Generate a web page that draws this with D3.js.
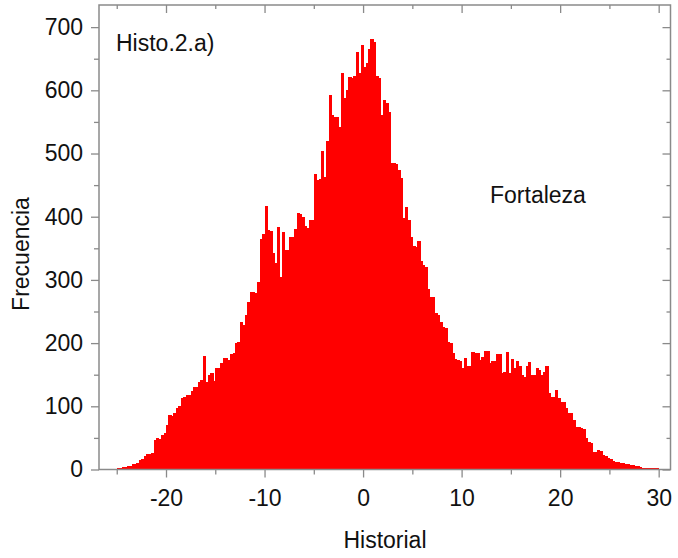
<!DOCTYPE html>
<html>
<head>
<meta charset="utf-8">
<script src="https://cdn.jsdelivr.net/npm/d3@7"></script>
<style>
  html, body { margin: 0; padding: 0; background: #fff; }
  svg { display: block; font-family: "Liberation Sans", Arial, sans-serif; }
</style>
</head>
<body>
<svg id="main-canvas" width="678" height="558"></svg>
<script>
// histogram bins: start value, width, and count per bin
var binStart = -25
var binWidth = 0.25
var counts = [
  2, 3, 4, 4, 5, 6, 8, 9, 11, 15, 16, 22, 25, 24, 26, 47, 50, 48, 55, 58,
  70, 86, 84, 90, 97, 100, 113, 115, 118, 118, 125, 130, 131, 139, 142, 180, 139, 150, 152, 140,
  161, 160, 168, 177, 176, 173, 183, 184, 200, 202, 234, 229, 244, 265, 281, 281, 279, 297, 365, 372,
  417, 379, 377, 342, 327, 384, 305, 376, 347, 347, 368, 368, 380, 406, 405, 400, 385, 382, 395, 395,
  467, 458, 460, 504, 463, 520, 592, 561, 557, 557, 542, 627, 588, 600, 621, 620, 622, 661, 627, 672,
  637, 643, 665, 681, 676, 622, 620, 561, 585, 580, 566, 485, 485, 483, 474, 461, 398, 415, 395, 368,
  353, 352, 362, 330, 324, 321, 285, 273, 273, 247, 245, 234, 226, 224, 202, 200, 184, 175, 173, 172,
  160, 176, 163, 163, 186, 185, 184, 173, 178, 188, 188, 168, 172, 172, 183, 183, 153, 155, 186, 153,
  175, 161, 172, 163, 150, 147, 163, 170, 150, 150, 161, 157, 150, 155, 163, 121, 115, 115, 126, 113,
  107, 107, 97, 89, 89, 78, 68, 67, 66, 64, 50, 44, 42, 28, 28, 31, 30, 23, 22, 18,
  17, 13, 12, 12, 10, 10, 9, 8, 7, 7, 6, 5, 4, 3, 3, 2, 2, 2, 2, 2,
  1, 1, 1, 1
]

var xMajor = [-20, -10, 0, 10, 20, 30]
var xMinor = [-25, -15, -5, 5, 15, 25]
var yMajor = [0, 100, 200, 300, 400, 500, 600, 700]
var yMinor = [50, 150, 250, 350, 450, 550, 650]

var panelLabel = "Histo.2.a)"
var seriesLabel = "Fortaleza"
var xTitle = "Historial"
var yTitle = "Frecuencia"

// plot box (window.top is taken, so use other names)
var boxL = 99, boxR = 670.5, boxT = 5, boxB = 469.5

var x = d3.scaleLinear().domain([-26.8, 31.2]).range([boxL, boxR])
var y = d3.scaleLinear().domain([0, 735]).range([boxB, boxT])

var svg = d3.select("#main-canvas")
var frameColor = "#8a8a8a"
var fontSize = 23

// bars, crisp so neighbouring bars don't show seams
svg.append("g")
   .attr("shape-rendering", "crispEdges")
   .selectAll("rect")
   .data(counts)
   .join("rect")
   .attr("x", (d, i) => x(binStart + i * binWidth))
   .attr("y", d => y(d))
   .attr("width", x(binWidth) - x(0) + 0.8)
   .attr("height", d => boxB - y(d))
   .attr("fill", "#ff0000")

// axes, bottom/left outward with labels, top/right inward
function styleAxis(g) {
  g.select(".domain").remove()
  g.selectAll("line").attr("stroke", frameColor).attr("stroke-width", 1.3)
  g.selectAll("text").attr("fill", "#111").attr("font-size", fontSize)
    .attr("font-family", "Liberation Sans, Arial, sans-serif")
}

svg.append("g")
   .attr("transform", "translate(0," + boxB + ")")
   .call(d3.axisBottom(x).tickValues(xMajor).tickSize(8).tickPadding(12).tickFormat(d3.format("d")))
   .call(styleAxis)
   .selectAll("text").text(d => d < 0 ? "-" + Math.abs(d) : d)

svg.append("g")
   .attr("transform", "translate(0," + boxB + ")")
   .call(d3.axisBottom(x).tickValues(xMinor).tickSize(5).tickFormat(""))
   .call(styleAxis)

svg.append("g")
   .attr("transform", "translate(" + boxL + ",0)")
   .call(d3.axisLeft(y).tickValues(yMajor).tickSize(8).tickPadding(8))
   .call(styleAxis)

svg.append("g")
   .attr("transform", "translate(" + boxL + ",0)")
   .call(d3.axisLeft(y).tickValues(yMinor).tickSize(5).tickFormat(""))
   .call(styleAxis)

svg.append("g")
   .attr("transform", "translate(0," + boxT + ")")
   .call(d3.axisBottom(x).tickValues(xMajor).tickSize(8).tickFormat(""))
   .call(styleAxis)

svg.append("g")
   .attr("transform", "translate(0," + boxT + ")")
   .call(d3.axisBottom(x).tickValues(xMinor).tickSize(4).tickFormat(""))
   .call(styleAxis)

svg.append("g")
   .attr("transform", "translate(" + boxR + ",0)")
   .call(d3.axisLeft(y).tickValues(yMajor).tickSize(8).tickFormat(""))
   .call(styleAxis)

svg.append("g")
   .attr("transform", "translate(" + boxR + ",0)")
   .call(d3.axisLeft(y).tickValues(yMinor).tickSize(4).tickFormat(""))
   .call(styleAxis)

// frame
svg.append("rect")
   .attr("x", boxL)
   .attr("y", boxT)
   .attr("width", boxR - boxL)
   .attr("height", boxB - boxT)
   .attr("fill", "none")
   .attr("stroke", frameColor)
   .attr("stroke-width", 1.5)

// texts
svg.append("text")
   .attr("x", 116)
   .attr("y", 51)
   .attr("font-size", fontSize)
   .attr("fill", "#111")
   .text(panelLabel)

svg.append("text")
   .attr("x", 490)
   .attr("y", 203)
   .attr("font-size", fontSize)
   .attr("fill", "#111")
   .text(seriesLabel)

svg.append("text")
   .attr("x", 385)
   .attr("y", 548)
   .attr("text-anchor", "middle")
   .attr("font-size", fontSize)
   .attr("fill", "#111")
   .text(xTitle)

svg.append("text")
   .attr("transform", "translate(29,254) rotate(-90)")
   .attr("text-anchor", "middle")
   .attr("font-size", fontSize)
   .attr("fill", "#111")
   .text(yTitle)
</script>
</body>
</html>
